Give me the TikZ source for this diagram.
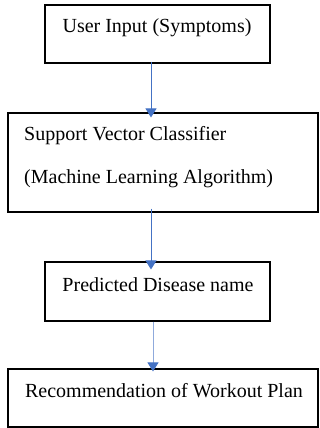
\documentclass[tikz,border=0pt]{standalone}
\usepackage{fontspec}
\setmainfont{Liberation Serif}
\usetikzlibrary{arrows.meta}
\definecolor{flowblue}{HTML}{4472C4}
\definecolor{flowlight}{HTML}{8FAADC}
\begin{document}
\begin{tikzpicture}[x=1pt,y=-1pt,
  box/.style={draw=black, line width=1.1pt, inner sep=0pt},
  txt/.style={inner sep=0pt, font=\fontsize{20}{24}\selectfont},
  flow/.style={draw=flowblue, line width=0.9pt,
    -{Triangle[width=11pt,length=9pt,color=flowblue]}}]
\useasboundingbox (0,0) rectangle (320,428);

% boxes
\node[box, minimum width=225pt, minimum height=58pt] (b1) at (157.5,34) {};
\node[box, minimum width=310pt, minimum height=99pt] (b2) at (163,162.5) {};
\node[box, minimum width=225pt, minimum height=59pt] (b3) at (157.5,291.5) {};
\node[box, minimum width=310pt, minimum height=58pt] (b4) at (163,398) {};

% labels
\node[txt, anchor=base] (t1) at (157,33) {User Input (Symptoms)};
\node[txt, anchor=base west] (t2a) at (24,140) {Support Vector Classifier};
\node[txt, anchor=base west] (t2b) at (24,183) {(Machine Learning Algorithm)};
\node[txt, anchor=base] (t3) at (158,291) {Predicted Disease name};
\node[txt, anchor=base] (t4) at (164,397) {Recommendation of Workout Plan};

% connectors
\draw[flow] ([xshift=-6.5pt,yshift=2pt]b1.south) -- ([xshift=-12pt,yshift=-5pt]b2.north);
\draw[flow] ([xshift=-12pt,yshift=4pt]b2.south) -- ([xshift=-6.5pt,yshift=-8pt]b3.north);
\draw[flow, draw=flowlight] ([xshift=-4.5pt,yshift=0pt]b3.south) -- ([xshift=-10pt,yshift=-3pt]b4.north);
\end{tikzpicture}
\end{document}
